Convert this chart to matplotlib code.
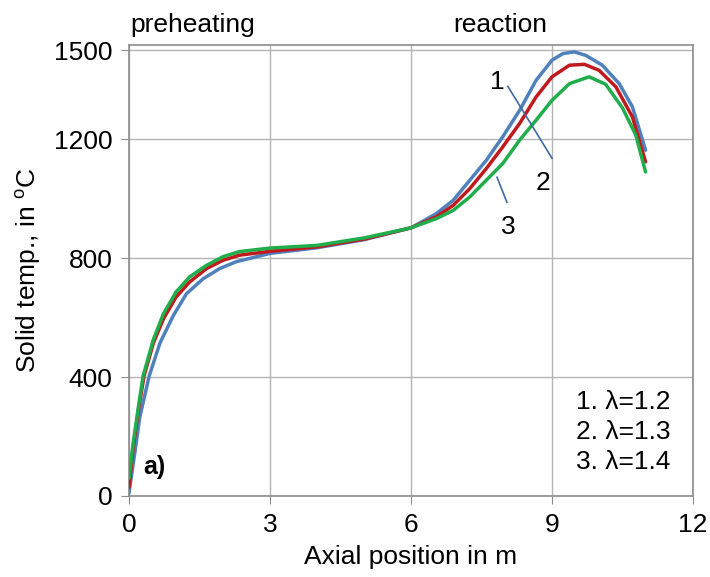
import matplotlib.pyplot as plt

plt.rcParams['font.family'] = ['Liberation Sans', 'DejaVu Sans']
plt.rcParams['mathtext.fontset'] = 'custom'
plt.rcParams['mathtext.rm'] = 'Liberation Sans'

# axial position (m) and solid temperature (C)
x_12 = [0, 0.13, 0.23, 0.43, 0.66, 0.94, 1.22, 1.58, 1.93, 2.28, 2.64, 3.0, 4.0, 5.0, 6.0,
        6.54, 6.9, 7.25, 7.6, 7.95, 8.31, 8.66, 9.0, 9.23, 9.47, 9.72, 10.07, 10.43, 10.71, 10.99]
t_12 = [10, 153, 266, 404, 515, 606, 680, 731, 765, 788, 802, 816, 835, 862, 902,
        950, 995, 1062, 1129, 1208, 1297, 1398, 1466, 1488, 1494, 1482, 1449, 1387, 1309, 1163]

x_13 = [0, 0.09, 0.2, 0.32, 0.52, 0.73, 1.0, 1.29, 1.65, 2.0, 2.35, 3.0, 4.0, 5.0, 6.0,
        6.54, 6.9, 7.25, 7.6, 7.95, 8.31, 8.66, 9.0, 9.37, 9.69, 10.0, 10.36, 10.71, 10.99]
t_13 = [30, 164, 289, 404, 515, 595, 669, 720, 765, 793, 810, 823, 838, 864, 902,
        939, 978, 1034, 1101, 1174, 1253, 1342, 1410, 1449, 1452, 1432, 1376, 1275, 1124]

x_14 = [0, 0.09, 0.2, 0.3, 0.52, 0.73, 1.0, 1.29, 1.65, 2.0, 2.35, 3.0, 4.0, 5.0, 6.0,
        6.54, 6.9, 7.25, 7.6, 7.95, 8.31, 8.66, 9.0, 9.37, 9.79, 10.14, 10.5, 10.78, 10.99]
t_14 = [60, 180, 300, 404, 527, 612, 686, 737, 776, 805, 822, 834, 843, 868, 902,
        933, 961, 1006, 1062, 1118, 1197, 1264, 1331, 1387, 1410, 1385, 1305, 1215, 1090]

xs = [x_12, x_13, x_14]
temps = [t_12, t_13, t_14]
colors = ['#4F81BD', '#C0191E', '#1FAE4B']
legend_lines = ['1. \u03bb=1.2', '2. \u03bb=1.3', '3. \u03bb=1.4']

fig = plt.figure(figsize=(7.1, 5.77), dpi=100)
ax = fig.add_axes([0.1817, 0.1404, 0.7944, 0.7816])

for xx, ys, c in zip(xs, temps, colors):
    ax.plot(xx, ys, color=c, lw=2.5, solid_capstyle='round', solid_joinstyle='round', zorder=3)

ax.set_xlim(0, 12)
ax.set_ylim(0, 1517)
ax.set_xticks([0, 3, 6, 9, 12])
ax.set_yticks([0, 400, 800, 1200, 1500])
ax.grid(True, color='#b4b4b4', lw=1)
ax.set_axisbelow(True)
for s in ax.spines.values():
    s.set_color('#8c8c8c')
    s.set_linewidth(1.2)
ax.tick_params(direction='out', length=6, color='#8c8c8c', labelsize=19, pad=6)

ax.set_xlabel('Axial position in m', fontsize=19, labelpad=6)
ax.set_ylabel(r'Solid temp., in $^{\mathrm{o}}$C', fontsize=19, labelpad=8)

# curve numbers with leader lines
ann = '#3f6aa0'
ax.plot([8.06, 9.0], [1378, 1136], color=ann, lw=1.2, zorder=4)
ax.plot([7.83, 8.04], [1072, 988], color=ann, lw=1.2, zorder=4)
ax.text(7.83, 1392, '1', fontsize=19, ha='center', va='center')
ax.text(8.81, 1052, '2', fontsize=19, ha='center', va='center')
ax.text(8.06, 904, '3', fontsize=19, ha='center', va='center')

ax.text(0.55, 96, 'a)', fontsize=18, fontweight='bold', ha='center', va='center')
for i, t in enumerate(legend_lines):
    ax.text(9.5, 316 - i * 101, t, fontsize=19, ha='left', va='center')

fig.text(130 / 710, 1 - 25 / 577, 'preheating', fontsize=19, ha='left', va='center')
fig.text(500 / 710, 1 - 25 / 577, 'reaction', fontsize=19, ha='center', va='center')

fig.savefig('out.png', dpi=100)
